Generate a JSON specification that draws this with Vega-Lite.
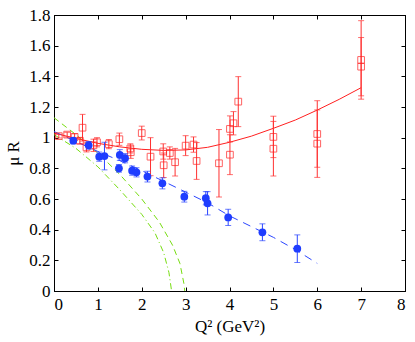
{
  "$schema": "https://vega.github.io/schema/vega-lite/v6.json",
  "autosize": {"type": "none"},
  "width": 351,
  "height": 276,
  "padding": {"left": 54, "top": 15, "right": 10, "bottom": 51},
  "background": "white",
  "config": {
    "view": {"stroke": "black", "strokeWidth": 1},
    "axis": {
      "labelFont": "Liberation Serif",
      "titleFont": "Liberation Serif",
      "labelFontSize": 17,
      "titleFontSize": 17,
      "titleFontWeight": "normal",
      "labelColor": "black",
      "titleColor": "black",
      "domainColor": "black",
      "tickColor": "black",
      "grid": false,
      "tickSize": -4,
      "labelOverlap": false
    }
  },
  "resolve": {"axis": {"x": "independent", "y": "independent"}},
  "datasets": {
    "red": [
      {"q2": 0.11, "r": 1.01, "e": 0.012},
      {"q2": 0.30, "r": 1.02, "e": 0.015},
      {"q2": 0.47, "r": 1.005, "e": 0.02},
      {"q2": 0.59, "r": 0.98, "e": 0.02},
      {"q2": 0.65, "r": 1.065, "e": 0.087},
      {"q2": 0.74, "r": 0.937, "e": 0.03},
      {"q2": 0.90, "r": 0.95, "e": 0.04},
      {"q2": 0.98, "r": 0.97, "e": 0.03},
      {"q2": 1.25, "r": 0.958, "e": 0.03},
      {"q2": 1.49, "r": 0.99, "e": 0.04},
      {"q2": 1.74, "r": 0.93, "e": 0.03},
      {"q2": 1.75, "r": 0.905, "e": 0.04},
      {"q2": 2.0, "r": 1.03, "e": 0.045},
      {"q2": 2.2, "r": 0.876, "e": 0.124},
      {"q2": 2.49, "r": 0.91, "e": 0.05},
      {"q2": 2.5, "r": 0.82, "e": 0.08},
      {"q2": 2.64, "r": 0.9, "e": 0.04},
      {"q2": 2.76, "r": 0.84, "e": 0.09},
      {"q2": 3.0, "r": 0.948, "e": 0.065},
      {"q2": 3.18, "r": 0.955, "e": 0.05},
      {"q2": 3.25, "r": 0.848, "e": 0.12},
      {"q2": 3.76, "r": 0.833, "e": 0.22},
      {"q2": 4.01, "r": 1.057, "e": 0.085},
      {"q2": 4.01, "r": 0.889, "e": 0.13},
      {"q2": 4.09, "r": 1.094, "e": 0.076},
      {"q2": 4.2, "r": 1.235, "e": 0.163},
      {"q2": 5.0, "r": 1.005, "e": 0.135},
      {"q2": 5.0, "r": 0.928, "e": 0.178},
      {"q2": 6.0, "r": 1.024, "e": 0.217},
      {"q2": 6.0, "r": 0.961, "e": 0.22},
      {"q2": 7.0, "r": 1.507, "e": 0.256},
      {"q2": 7.0, "r": 1.463, "e": 0.19}
    ],
    "blue": [
      {"q2": 0.44, "r": 0.98, "e": 0.02},
      {"q2": 0.79, "r": 0.95, "e": 0.025},
      {"q2": 1.03, "r": 0.876, "e": 0.03},
      {"q2": 1.15, "r": 0.88, "e": 0.09},
      {"q2": 1.48, "r": 0.80, "e": 0.025},
      {"q2": 1.5, "r": 0.887, "e": 0.035},
      {"q2": 1.62, "r": 0.866, "e": 0.03},
      {"q2": 1.78, "r": 0.785, "e": 0.03},
      {"q2": 1.88, "r": 0.774, "e": 0.03},
      {"q2": 2.13, "r": 0.746, "e": 0.035},
      {"q2": 2.47, "r": 0.702, "e": 0.036},
      {"q2": 2.97, "r": 0.615, "e": 0.035},
      {"q2": 3.46, "r": 0.605, "e": 0.043},
      {"q2": 3.5, "r": 0.572, "e": 0.076},
      {"q2": 3.97, "r": 0.48, "e": 0.053},
      {"q2": 4.75, "r": 0.383, "e": 0.055},
      {"q2": 5.545, "r": 0.276, "e": 0.09}
    ],
    "redCurve": [
      {"q2": 0, "r": 1.03}, {"q2": 0.5, "r": 0.995}, {"q2": 1, "r": 0.963},
      {"q2": 1.5, "r": 0.94}, {"q2": 2, "r": 0.924}, {"q2": 2.5, "r": 0.917},
      {"q2": 3, "r": 0.92}, {"q2": 3.5, "r": 0.937}, {"q2": 4, "r": 0.97},
      {"q2": 4.5, "r": 1.01}, {"q2": 5, "r": 1.061}, {"q2": 5.5, "r": 1.115},
      {"q2": 6, "r": 1.18}, {"q2": 6.5, "r": 1.25}, {"q2": 7, "r": 1.326}
    ],
    "blueCurve": [
      {"q2": 0, "r": 1.04}, {"q2": 0.5, "r": 0.975}, {"q2": 1, "r": 0.91},
      {"q2": 1.5, "r": 0.85}, {"q2": 2, "r": 0.785}, {"q2": 2.5, "r": 0.715},
      {"q2": 3, "r": 0.645}, {"q2": 3.5, "r": 0.575}, {"q2": 4, "r": 0.49},
      {"q2": 4.5, "r": 0.42}, {"q2": 5, "r": 0.35}, {"q2": 5.5, "r": 0.27},
      {"q2": 6, "r": 0.18}
    ],
    "greenA": [
      {"q2": 0, "r": 1.13}, {"q2": 0.5, "r": 1.02}, {"q2": 1, "r": 0.9},
      {"q2": 1.5, "r": 0.76}, {"q2": 2, "r": 0.6}, {"q2": 2.4, "r": 0.45},
      {"q2": 2.7, "r": 0.3}, {"q2": 2.87, "r": 0.18}, {"q2": 2.96, "r": 0.05},
      {"q2": 2.98, "r": 0}
    ],
    "greenB": [
      {"q2": 0, "r": 1.02}, {"q2": 0.5, "r": 0.93}, {"q2": 1, "r": 0.81},
      {"q2": 1.5, "r": 0.66}, {"q2": 2, "r": 0.5}, {"q2": 2.3, "r": 0.38},
      {"q2": 2.5, "r": 0.25}, {"q2": 2.62, "r": 0.12}, {"q2": 2.68, "r": 0}
    ]
  },
  "layer": [
    {
      "data": {"name": "greenA"},
      "mark": {"type": "line", "color": "#77dd11", "strokeWidth": 1, "strokeDash": [6, 4], "clip": true},
      "encoding": {
        "x": {"field": "q2", "type": "quantitative", "scale": {"domain": [0, 8], "nice": false},
              "axis": {"orient": "bottom", "values": [0,1,2,3,4,5,6,7,8], "title": "Q² (GeV²)", "titlePadding": 6, "labelPadding": 9}},
        "y": {"field": "r", "type": "quantitative", "scale": {"domain": [0, 1.8], "nice": false},
              "axis": {"orient": "left", "values": [0,0.2,0.4,0.6,0.8,1,1.2,1.4,1.6,1.8], "format": "~g", "title": "μ R", "titlePadding": 6, "labelPadding": 8}}
      }
    },
    {
      "data": {"name": "greenB"},
      "mark": {"type": "line", "color": "#77dd11", "strokeWidth": 1, "strokeDash": [6, 3, 1, 3], "clip": true},
      "encoding": {
        "x": {"field": "q2", "type": "quantitative", "axis": null},
        "y": {"field": "r", "type": "quantitative", "axis": null}
      }
    },
    {
      "data": {"name": "redCurve"},
      "mark": {"type": "line", "color": "#ff2020", "strokeWidth": 1},
      "encoding": {
        "x": {"field": "q2", "type": "quantitative", "axis": null},
        "y": {"field": "r", "type": "quantitative", "axis": null}
      }
    },
    {
      "data": {"name": "blueCurve"},
      "mark": {"type": "line", "color": "#2a45ff", "strokeWidth": 1, "strokeDash": [8, 6]},
      "encoding": {
        "x": {"field": "q2", "type": "quantitative", "axis": null},
        "y": {"field": "r", "type": "quantitative", "axis": null}
      }
    },
    {
      "data": {"name": "red"},
      "mark": {"type": "errorbar", "ticks": {"size": 6, "color": "#ff3030"}, "color": "#ff3030", "thickness": 1},
      "encoding": {
        "x": {"field": "q2", "type": "quantitative", "axis": null},
        "y": {"field": "r", "type": "quantitative", "axis": null},
        "yError": {"field": "e"}
      }
    },
    {
      "data": {"name": "red"},
      "mark": {"type": "point", "shape": "square", "filled": false, "color": "#ff2020", "size": 45, "strokeWidth": 1},
      "encoding": {
        "x": {"field": "q2", "type": "quantitative", "axis": null},
        "y": {"field": "r", "type": "quantitative", "axis": null}
      }
    },
    {
      "data": {"name": "blue"},
      "mark": {"type": "errorbar", "ticks": {"size": 6, "color": "#2a45ff"}, "color": "#2a45ff", "thickness": 1},
      "encoding": {
        "x": {"field": "q2", "type": "quantitative", "axis": null},
        "y": {"field": "r", "type": "quantitative", "axis": null},
        "yError": {"field": "e"}
      }
    },
    {
      "data": {"name": "blue"},
      "mark": {"type": "circle", "color": "#1f3dff", "size": 60, "opacity": 1},
      "encoding": {
        "x": {"field": "q2", "type": "quantitative", "axis": null},
        "y": {"field": "r", "type": "quantitative", "axis": null}
      }
    },
    {
      "data": {"name": "redCurve"},
      "mark": {"type": "point", "opacity": 0},
      "encoding": {
        "x": {"field": "q2", "type": "quantitative", "axis": {"orient": "top", "values": [0,1,2,3,4,5,6,7,8], "labels": false, "title": null}},
        "y": {"field": "r", "type": "quantitative", "axis": {"orient": "right", "values": [0,0.2,0.4,0.6,0.8,1,1.2,1.4,1.6,1.8], "labels": false, "title": null}}
      }
    }
  ]
}
